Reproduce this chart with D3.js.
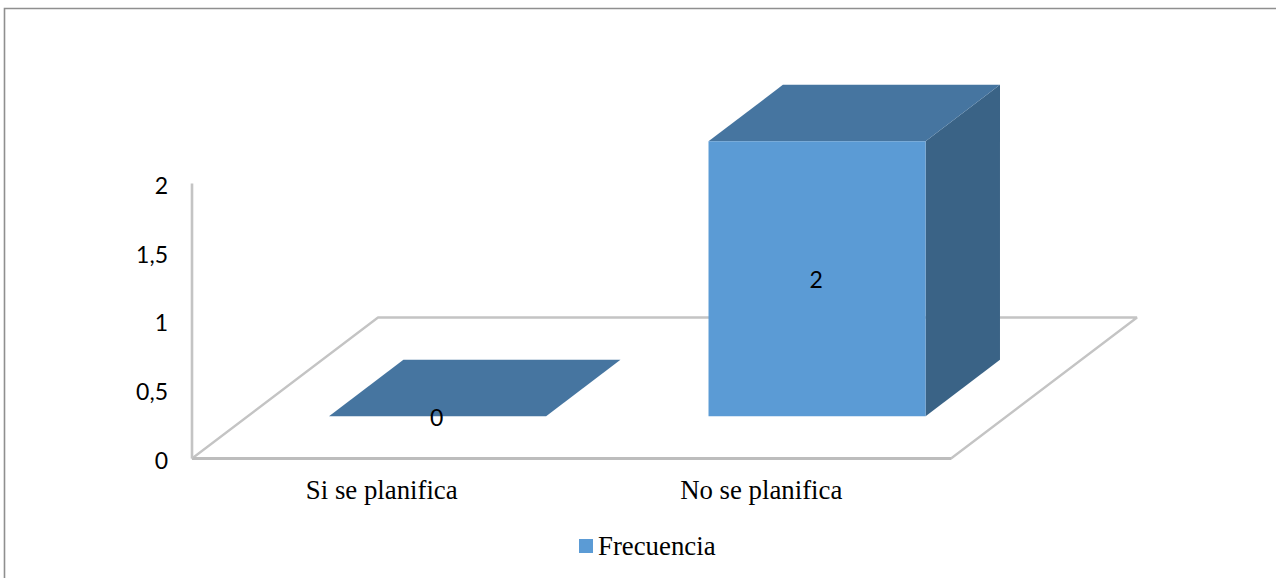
<!DOCTYPE html>
<html>
<head>
<meta charset="utf-8">
<script src="https://cdn.jsdelivr.net/npm/d3@7"></script>
<style>
  html, body { margin: 0; padding: 0; background: #fff; }
  svg { display: block; }
</style>
</head>
<body>
<svg id="chart" width="1276" height="578"></svg>
<script>
// Chart content
const categories = ["Si se planifica", "No se planifica"];
const frecuencia = [0, 2];
const yTicks = [0, 0.5, 1, 1.5, 2];
const seriesName = "Frecuencia";

// Palette of the extruded column faces
const frontColor = "#5b9bd5";
const topColor = "#4675a0";
const sideColor = "#3a6386";
const wallColor = "#c4c4c4";

const svg = d3.select("#chart");

// Frame around the chart area
svg.append("path")
  .attr("d", "M4.5,578V8.5H1276")
  .attr("fill", "none")
  .attr("stroke", "#8f8f8f")
  .attr("stroke-width", 1.6);

// Front plane of the 3D box, plus the depth axis of the floor
const x = d3.scaleBand().domain(categories).range([192, 951])
  .paddingInner(0.428).paddingOuter(0.214);
const y = d3.scaleLinear().domain([0, 2]).range([458.5, 183.5]);
const depthX = d3.scaleLinear().domain([0, 1]).range([0, 186]);
const depthY = d3.scaleLinear().domain([0, 1]).range([0, -141]);
const barNear = 0.3;
const barFar = 0.7;

// Project a point given by category-plane x, value and depth
const px = (fx, d) => fx + depthX(d);
const py = (v, d) => y(v) + depthY(d);
const poly = pts => "M" + pts.map(p => p.join(",")).join("L") + "Z";

// Floor outline and vertical wall edge
const x0 = x.range()[0], x1 = x.range()[1];
svg.append("path")
  .attr("d", poly([
    [px(x0, 0), py(0, 0)], [px(x1, 0), py(0, 0)],
    [px(x1, 1), py(0, 1)], [px(x0, 1), py(0, 1)]
  ]))
  .attr("fill", "#fff")
  .attr("stroke", wallColor)
  .attr("stroke-width", 2.3)
  .attr("stroke-linejoin", "bevel");
svg.append("path")
  .attr("d", `M${x0},${y(0)}H${x1}`)
  .attr("stroke", "#bdbdbd").attr("stroke-width", 3);
svg.append("path")
  .attr("d", `M${x0},${y(0)}V${y(2)}`)
  .attr("stroke", wallColor).attr("stroke-width", 2.6);

// Columns: side, top and front faces
const bars = svg.append("g").selectAll("g")
  .data(categories.map((c, i) => ({ c, v: frecuencia[i] })))
  .join("g");

bars.each(function (d) {
  const g = d3.select(this);
  const l = x(d.c), r = l + x.bandwidth();
  if (d.v > 0) {
    g.append("path")
      .attr("fill", sideColor)
      .attr("d", poly([
        [px(r, barNear), py(0, barNear)], [px(r, barFar), py(0, barFar)],
        [px(r, barFar), py(d.v, barFar)], [px(r, barNear), py(d.v, barNear)]
      ]));
  }
  g.append("path")
    .attr("fill", topColor)
    .attr("d", poly([
      [px(l, barNear), py(d.v, barNear)], [px(r, barNear), py(d.v, barNear)],
      [px(r, barFar), py(d.v, barFar)], [px(l, barFar), py(d.v, barFar)]
    ]));
  if (d.v > 0) {
    g.append("path")
      .attr("fill", frontColor)
      .attr("d", poly([
        [px(l, barNear), py(d.v, barNear)], [px(r, barNear), py(d.v, barNear)],
        [px(r, barNear), py(0, barNear)], [px(l, barNear), py(0, barNear)]
      ]));
  }
  g.append("text")
    .attr("x", px(l + x.bandwidth() / 2, barNear) - 1)
    .attr("y", py(d.v / 2, barNear) + 1.5)
    .attr("dy", "0.36em")
    .attr("text-anchor", "middle")
    .attr("font-family", "Lato, sans-serif")
    .attr("font-size", 23)
    .attr("fill", "#000")
    .text(d.v);
});

// Value axis, labelled with a decimal comma
const decimal = d3.formatLocale({ decimal: ",", thousands: ".", grouping: [3], currency: ["", ""] }).format("~g");
const yAxis = svg.append("g")
  .attr("transform", `translate(${x0},2.5)`)
  .call(d3.axisLeft(y).tickValues(yTicks).tickFormat(decimal).tickSize(0).tickPadding(24));
yAxis.select(".domain").remove();
yAxis.selectAll("text")
  .attr("font-family", "Lato, sans-serif")
  .attr("font-size", 23)
  .attr("fill", "#000");

// Category axis
const xAxis = svg.append("g")
  .attr("transform", `translate(0,${y(0)})`)
  .call(d3.axisBottom(x).tickSize(0).tickPadding(21));
xAxis.select(".domain").remove();
xAxis.selectAll("text")
  .attr("font-family", "'Liberation Serif', serif")
  .attr("font-size", 26.8)
  .attr("fill", "#000");

// Legend
const legend = svg.append("g").attr("transform", "translate(579,539)");
legend.append("rect").attr("width", 14).attr("height", 14).attr("fill", frontColor);
legend.append("text")
  .attr("x", 19).attr("y", 16)
  .attr("font-family", "'Liberation Serif', serif")
  .attr("font-size", 26.8)
  .attr("fill", "#000")
  .text(seriesName);
</script>
</body>
</html>
